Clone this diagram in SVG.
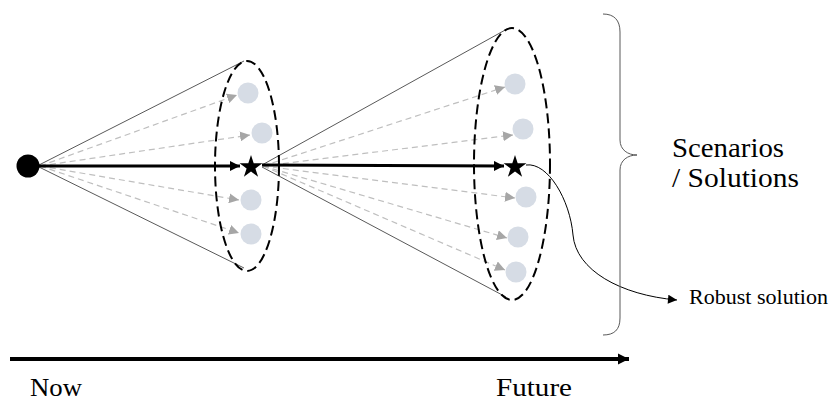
<svg xmlns="http://www.w3.org/2000/svg" width="830" height="401" viewBox="0 0 830 401">
<style>
.cone{stroke:#595959;stroke-width:1;fill:none}
.dash{stroke:#bfbfbf;stroke-width:1.2;stroke-dasharray:6,4;fill:none;marker-end:url(#ga)}
.ell{stroke:#000;stroke-width:2;stroke-dasharray:10,5;fill:none}
.sc{fill:#d6dce5}
.thick{stroke:#000;stroke-width:3;fill:none;marker-end:url(#ba)}
.lbl{font-family:"Liberation Serif","Times New Roman",serif;fill:#000}
</style>
<defs>
<marker id="ga" viewBox="0 0 10 10" refX="10" refY="5" markerWidth="10" markerHeight="10" markerUnits="userSpaceOnUse" orient="auto"><path d="M0,0 L10,5 L0,10 Z" fill="#a6a6a6"/></marker>
<marker id="ba" viewBox="0 0 10 10" refX="10" refY="5" markerWidth="11" markerHeight="10" markerUnits="userSpaceOnUse" orient="auto"><path d="M0,0 L10,5 L0,10 Z" fill="#000"/></marker>
<marker id="ta" viewBox="0 0 10 10" refX="10" refY="5" markerWidth="10" markerHeight="9" markerUnits="userSpaceOnUse" orient="auto"><path d="M0,0 L10,5 L0,10 Z" fill="#000"/></marker>
<marker id="ha" viewBox="0 0 10 10" refX="10" refY="5" markerWidth="11" markerHeight="18" markerUnits="userSpaceOnUse" orient="auto"><path d="M0,0 L10,5 L0,10 Z" fill="#000"/></marker>
<polygon id="star" points="0,-12 2.7,-3.7 11.4,-3.7 4.4,1.4 7.1,9.7 0,4.6 -7.1,9.7 -4.4,1.4 -11.4,-3.7 -2.7,-3.7" fill="#000"/>
</defs>

<g id="connectors">
<line class="cone" x1="39" y1="165" x2="244" y2="61"/>
<line class="cone" x1="39" y1="167" x2="244" y2="268"/>
<path class="dash" d="M40,166 L237,95"/>
<path class="dash" d="M40,166 L250,135"/>
<path class="dash" d="M40,166 L239,200"/>
<path class="dash" d="M40,166 L239,233"/>
<line class="cone" x1="262" y1="165" x2="507" y2="29"/>
<line class="cone" x1="262" y1="167" x2="506" y2="297"/>
<path class="dash" d="M263,166 L505,87"/>
<path class="dash" d="M263,166 L513,135"/>
<path class="dash" d="M263,166 L515,198"/>
<path class="dash" d="M263,166 L507,238"/>
<path class="dash" d="M263,166 L505,270"/>
<path class="thick" d="M39,166 L240,166"/>
<path class="thick" d="M262,165 L504,166"/>
<path d="M526,165 C548,162 570,200 573,235 C576,270 620,295 677,300" stroke="#000" stroke-width="1" fill="none" marker-end="url(#ta)"/>
<path d="M10,359 L629,359" stroke="#000" stroke-width="4" fill="none" marker-end="url(#ha)"/>
</g>

<g id="now-node"><circle cx="28" cy="166" r="11.5" fill="#000"/></g>

<g id="stage1">
<ellipse class="ell" cx="247" cy="166" rx="32" ry="105"/>
<circle class="sc" cx="248" cy="93" r="10.5"/>
<circle class="sc" cx="262" cy="133" r="10.5"/>
<circle class="sc" cx="251" cy="200" r="10.5"/>
<circle class="sc" cx="251" cy="234" r="10.5"/>
<use href="#star" x="251" y="167"/>
</g>

<g id="stage2">
<ellipse class="ell" cx="512" cy="164" rx="38" ry="136"/>
<circle class="sc" cx="515" cy="84" r="10.5"/>
<circle class="sc" cx="523" cy="129" r="10.5"/>
<circle class="sc" cx="526" cy="197" r="10.5"/>
<circle class="sc" cx="518" cy="237" r="10.5"/>
<circle class="sc" cx="516" cy="272" r="10.5"/>
<use href="#star" x="515" y="167"/>
</g>

<g id="brace">
<path d="M603,14 C614,14 620,20 620,32 L620,140 C620,150 628,155 637,155 C628,155 620,160 620,170 L620,318 C620,330 614,335 603,335" stroke="#595959" stroke-width="1" fill="none"/>
</g>

<g id="labels">
<text class="lbl" x="672" y="157" font-size="27" textLength="112" lengthAdjust="spacingAndGlyphs">Scenarios</text>
<text class="lbl" x="672" y="187" font-size="27" textLength="127" lengthAdjust="spacingAndGlyphs">/ Solutions</text>
<text class="lbl" x="689" y="304" font-size="21" textLength="139" lengthAdjust="spacingAndGlyphs">Robust solution</text>
<text class="lbl" x="30" y="396" font-size="26" textLength="52" lengthAdjust="spacingAndGlyphs">Now</text>
<text class="lbl" x="496" y="396" font-size="26" textLength="76" lengthAdjust="spacingAndGlyphs">Future</text>
</g>
</svg>
